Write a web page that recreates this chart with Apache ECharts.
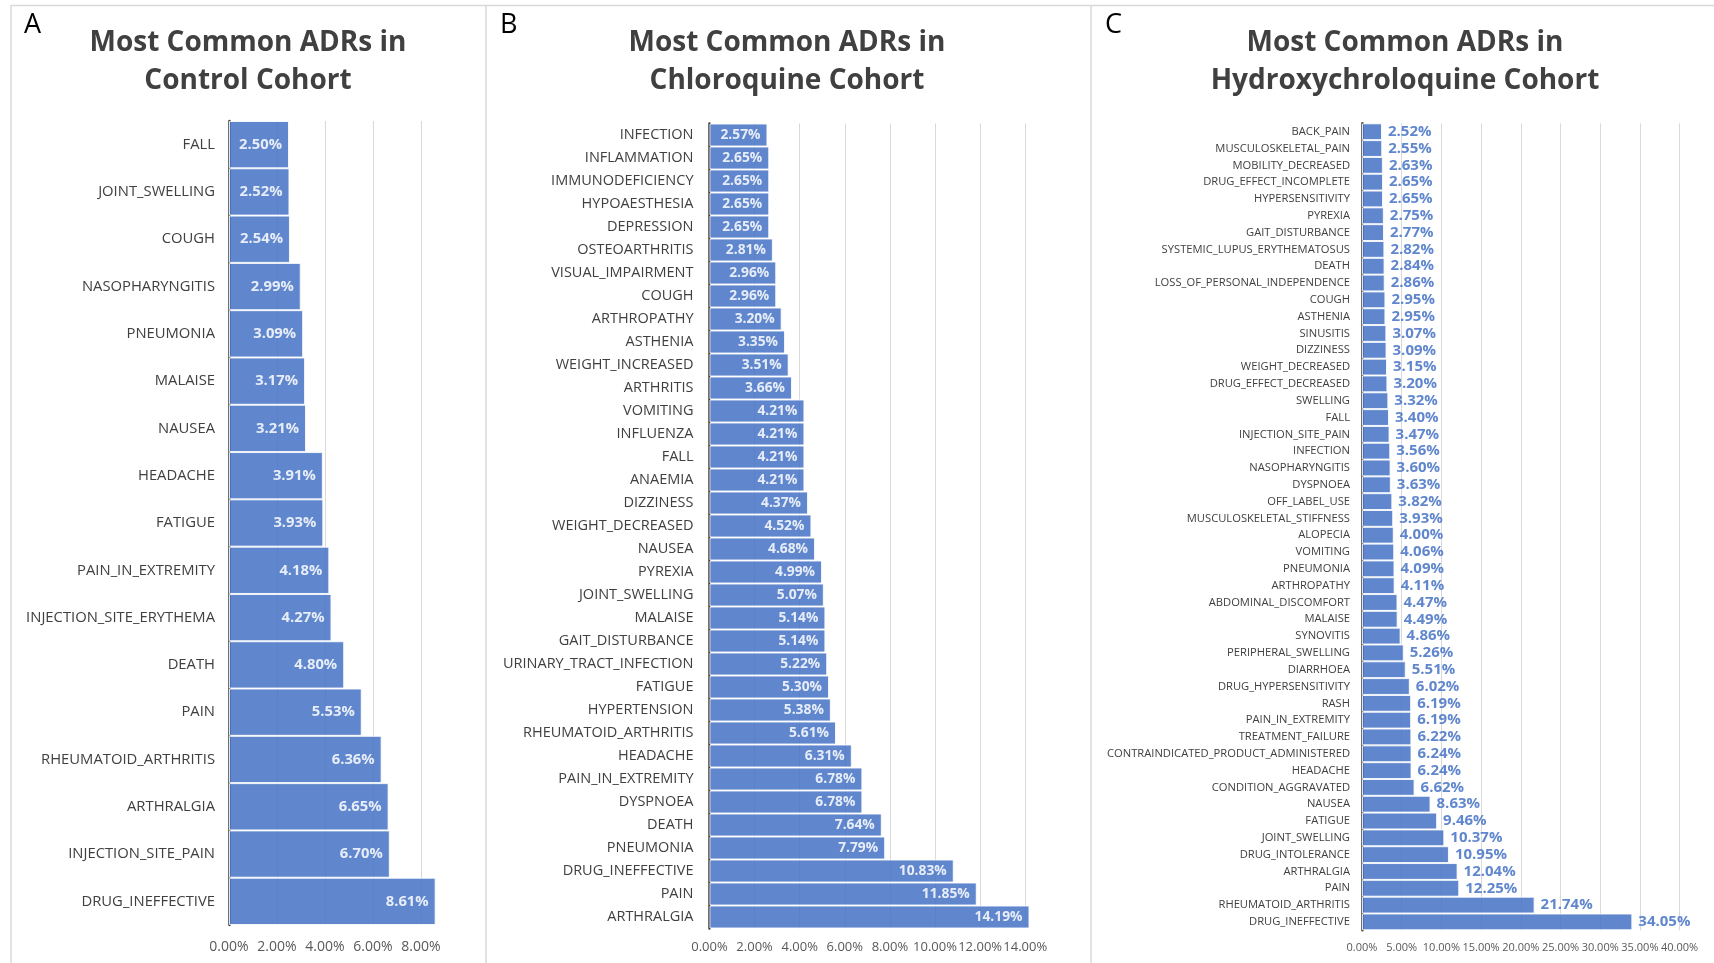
<!DOCTYPE html>
<html>
<head>
<meta charset="utf-8">
<script src="https://cdn.jsdelivr.net/npm/echarts@6/dist/echarts.min.js"></script>
<style>
html,body{margin:0;padding:0;background:#fff;}
#c{width:1714px;height:963px;}
</style>
</head>
<body>
<div id="c"></div>
<script>
// ---- Panel A: Control cohort ----
const catsA = ['FALL','JOINT_SWELLING','COUGH','NASOPHARYNGITIS','PNEUMONIA','MALAISE','NAUSEA','HEADACHE','FATIGUE','PAIN_IN_EXTREMITY','INJECTION_SITE_ERYTHEMA','DEATH','PAIN','RHEUMATOID_ARTHRITIS','ARTHRALGIA','INJECTION_SITE_PAIN','DRUG_INEFFECTIVE'];
const valsA = [2.50,2.52,2.54,2.99,3.09,3.17,3.21,3.91,3.93,4.18,4.27,4.80,5.53,6.36,6.65,6.70,8.61];

// ---- Panel B: Chloroquine cohort ----
const catsB = ['INFECTION','INFLAMMATION','IMMUNODEFICIENCY','HYPOAESTHESIA','DEPRESSION','OSTEOARTHRITIS','VISUAL_IMPAIRMENT','COUGH','ARTHROPATHY','ASTHENIA','WEIGHT_INCREASED','ARTHRITIS','VOMITING','INFLUENZA','FALL','ANAEMIA','DIZZINESS','WEIGHT_DECREASED','NAUSEA','PYREXIA','JOINT_SWELLING','MALAISE','GAIT_DISTURBANCE','URINARY_TRACT_INFECTION','FATIGUE','HYPERTENSION','RHEUMATOID_ARTHRITIS','HEADACHE','PAIN_IN_EXTREMITY','DYSPNOEA','DEATH','PNEUMONIA','DRUG_INEFFECTIVE','PAIN','ARTHRALGIA'];
const valsB = [2.57,2.65,2.65,2.65,2.65,2.81,2.96,2.96,3.20,3.35,3.51,3.66,4.21,4.21,4.21,4.21,4.37,4.52,4.68,4.99,5.07,5.14,5.14,5.22,5.30,5.38,5.61,6.31,6.78,6.78,7.64,7.79,10.83,11.85,14.19];

// ---- Panel C: Hydroxychloroquine cohort ----
const catsC = ['BACK_PAIN','MUSCULOSKELETAL_PAIN','MOBILITY_DECREASED','DRUG_EFFECT_INCOMPLETE','HYPERSENSITIVITY','PYREXIA','GAIT_DISTURBANCE','SYSTEMIC_LUPUS_ERYTHEMATOSUS','DEATH','LOSS_OF_PERSONAL_INDEPENDENCE','COUGH','ASTHENIA','SINUSITIS','DIZZINESS','WEIGHT_DECREASED','DRUG_EFFECT_DECREASED','SWELLING','FALL','INJECTION_SITE_PAIN','INFECTION','NASOPHARYNGITIS','DYSPNOEA','OFF_LABEL_USE','MUSCULOSKELETAL_STIFFNESS','ALOPECIA','VOMITING','PNEUMONIA','ARTHROPATHY','ABDOMINAL_DISCOMFORT','MALAISE','SYNOVITIS','PERIPHERAL_SWELLING','DIARRHOEA','DRUG_HYPERSENSITIVITY','RASH','PAIN_IN_EXTREMITY','TREATMENT_FAILURE','CONTRAINDICATED_PRODUCT_ADMINISTERED','HEADACHE','CONDITION_AGGRAVATED','NAUSEA','FATIGUE','JOINT_SWELLING','DRUG_INTOLERANCE','ARTHRALGIA','PAIN','RHEUMATOID_ARTHRITIS','DRUG_INEFFECTIVE'];
const valsC = [2.52,2.55,2.63,2.65,2.65,2.75,2.77,2.82,2.84,2.86,2.95,2.95,3.07,3.09,3.15,3.20,3.32,3.40,3.47,3.56,3.60,3.63,3.82,3.93,4.00,4.06,4.09,4.11,4.47,4.49,4.86,5.26,5.51,6.02,6.19,6.19,6.22,6.24,6.24,6.62,8.63,9.46,10.37,10.95,12.04,12.25,21.74,34.05];

const titles = ['Most Common ADRs in\nControl Cohort','Most Common ADRs in\nChloroquine Cohort','Most Common ADRs in\nHydroxychroloquine Cohort'];
const letters = ['A','B','C'];

const FONT = "'Open Sans', 'Noto Sans', sans-serif";
const BAR = '#4472c4';
const pct = v => v.toFixed(2) + '%';

const panels = [
  {cats: catsA, vals: valsA, grid: {left: 229, top: 121, width: 216, height: 804}, max: 9, interval: 2,
   catFont: 14.8, catMargin: 14, xFont: 14, xMargin: 15, valFont: 14.8, inside: true, dist: 7},
  {cats: catsB, vals: valsB, grid: {left: 709.5, top: 123.5, width: 327, height: 805}, max: 14.5, interval: 2,
   catFont: 14.5, catMargin: 16, xFont: 13, xMargin: 12, valFont: 13.8, inside: true, dist: 7},
  {cats: catsC, vals: valsC, grid: {left: 1362, top: 123.3, width: 317.6, height: 807}, max: 40, interval: 5,
   catFont: 11.2, catMargin: 12, xFont: 11, xMargin: 12, valFont: 15, inside: false, dist: 6}
];

const titleX = [248, 787, 1405];
const letterX = [24, 500, 1105];

const option = {
  animation: false,
  backgroundColor: '#ffffff',
  title: titles.map((t, i) => ({
    text: t, left: titleX[i], top: 23.5, textAlign: 'center', padding: 0,
    textStyle: {fontFamily: FONT, fontSize: 28, fontWeight: 'bold', color: '#404040', lineHeight: 38.5}
  })),
  graphic: [
    {type: 'line', shape: {x1: 11, y1: 5.5, x2: 1714, y2: 5.5}, style: {stroke: '#d9d9d9', lineWidth: 1.5}, silent: true},
    {type: 'line', shape: {x1: 11, y1: 5, x2: 11, y2: 963}, style: {stroke: '#d9d9d9', lineWidth: 1.5}, silent: true},
    {type: 'line', shape: {x1: 486, y1: 5, x2: 486, y2: 963}, style: {stroke: '#d9d9d9', lineWidth: 1.5}, silent: true},
    {type: 'line', shape: {x1: 1091, y1: 5, x2: 1091, y2: 963}, style: {stroke: '#d9d9d9', lineWidth: 1.5}, silent: true}
  ].concat(letters.map((l, i) => ({
    type: 'text', left: letterX[i], top: 12,
    style: {text: l, font: "27px 'Open Sans', sans-serif", fill: '#000000'}
  }))),
  grid: panels.map(p => p.grid),
  xAxis: panels.map((p, i) => ({
    type: 'value', gridIndex: i, min: 0, max: p.max, interval: p.interval,
    axisLine: {show: false}, axisTick: {show: false},
    splitLine: {show: true, showMaxLine: p.max % p.interval === 0, lineStyle: {color: '#d9d9d9', width: 1}},
    axisLabel: {formatter: pct, fontFamily: FONT, fontSize: p.xFont, color: '#595959', margin: p.xMargin,
                showMaxLabel: p.max % p.interval === 0, hideOverlap: false}
  })),
  yAxis: panels.map((p, i) => ({
    type: 'category', gridIndex: i, data: p.cats, inverse: true,
    axisLine: {show: true, lineStyle: {color: '#404040', width: 2.5}},
    axisTick: {show: false},
    axisLabel: {interval: 0, fontFamily: FONT, fontSize: p.catFont, color: '#404040', margin: p.catMargin}
  })),
  series: panels.map((p, i) => ({
    type: 'bar', xAxisIndex: i, yAxisIndex: i, data: p.vals,
    barCategoryGap: '0%',
    itemStyle: {color: BAR, opacity: 0.85, borderColor: '#ffffff', borderWidth: 1},
    label: {
      show: true, position: p.inside ? 'insideRight' : 'right', distance: p.dist,
      formatter: d => pct(d.value), fontFamily: FONT, fontWeight: 'bold', fontSize: p.valFont,
      color: p.inside ? '#ffffff' : '#4472c4'
    }
  }))
};

const chart = echarts.init(document.getElementById('c'), null, {renderer: 'canvas'});
chart.setOption(option);
</script>
</body>
</html>
